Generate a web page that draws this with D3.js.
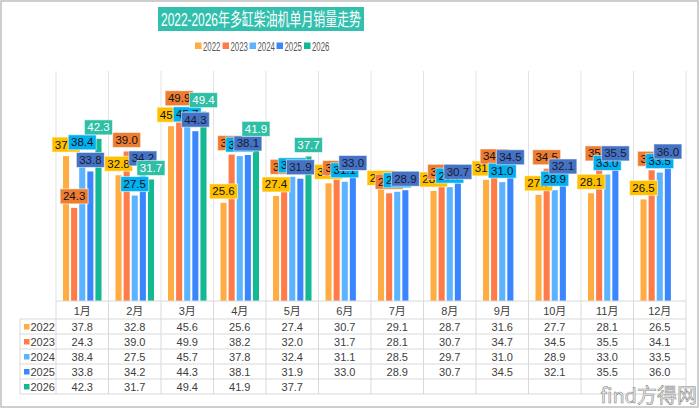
<!DOCTYPE html>
<html>
<head>
<meta charset="utf-8">
<script src="https://cdn.jsdelivr.net/npm/d3@7"></script>
<style>
  body { margin: 0; background: #fff; }
  svg { display: block; font-family: "Liberation Sans", Arial, sans-serif; }
</style>
</head>
<body>
<div id="chart"></div>
<script>
const months = ['1月','2月','3月','4月','5月','6月','7月','8月','9月','10月','11月','12月'];
const seriesNames = ['2022','2023','2024','2025','2026'];
const v2022 = [37.8, 32.8, 45.6, 25.6, 27.4, 30.7, 29.1, 28.7, 31.6, 27.7, 28.1, 26.5];
const v2023 = [24.3, 39.0, 49.9, 38.2, 32.0, 31.7, 28.1, 30.7, 34.7, 34.5, 35.5, 34.1];
const v2024 = [38.4, 27.5, 45.7, 37.8, 32.4, 31.1, 28.5, 29.7, 31.0, 28.9, 33.0, 33.5];
const v2025 = [33.8, 34.2, 44.3, 38.1, 31.9, 33.0, 28.9, 30.7, 34.5, 32.1, 35.5, 36.0];
const v2026 = [42.3, 31.7, 49.4, 41.9, 37.7];
const allValues = [v2022, v2023, v2024, v2025, v2026];

const barColors = ['#ffad42', '#ff7b47', '#5cb3ff', '#3a86ff', '#12b993'];
const labelFill = ['#ffc000', '#ed7d31', '#00b0f0', '#4472c4', '#2fbfa5'];
const labelText = ['#111', '#111', '#111', '#1a1a2e', '#fff'];

const W = 700, H = 409;
const plot = {left: 56, right: 686, top: 71, bottom: 301};

const svg = d3.select('#chart').append('svg')
    .attr('width', W).attr('height', H);

// outer frame
svg.append('rect')
    .attr('x', 1).attr('y', 1).attr('width', 697).attr('height', 406)
    .attr('fill', '#fff').attr('stroke', '#bfbfbf').attr('stroke-width', 1.5);

// title
svg.append('rect')
    .attr('x', 158).attr('y', 7).attr('width', 206).attr('height', 24)
    .attr('fill', '#33bfae');
svg.append('text')
    .attr('x', 161).attr('y', 25.5)
    .attr('fill', '#fff')
    .attr('textLength', 200).attr('lengthAdjust', 'spacingAndGlyphs')
    .style('font-family', '"Liberation Sans", "Noto Sans CJK SC", sans-serif')
    .style('font-size', '18px')
    .text('2022-2026年多缸柴油机单月销量走势');

// legend
const legendX = [195, 222.5, 249.5, 276.5, 304];
seriesNames.forEach((s, i) => {
    const g = svg.append('g').attr('transform', `translate(${legendX[i]},46)`);
    g.append('rect').attr('x', 0).attr('y', -3.5).attr('width', 6.5).attr('height', 6.5)
        .attr('fill', barColors[i]);
    g.append('text').attr('x', 8).attr('y', 4.5)
        .attr('fill', '#595959')
        .attr('textLength', 17.5).attr('lengthAdjust', 'spacingAndGlyphs')
        .style('font-size', '12px').text(s);
});

// scales
const x = d3.scaleBand().domain(months).range([plot.left, plot.right]);
const x1 = d3.scaleBand().domain(seriesNames).range([7, 45.5]).paddingInner(0.25);
const y = d3.scaleLinear().domain([0, 60]).range([plot.bottom, plot.top]);

// vertical gridlines
const bounds = months.map(m => x(m)).concat([plot.right]);
svg.append('g').selectAll('line').data(bounds).join('line')
    .attr('x1', d => d).attr('x2', d => d)
    .attr('y1', plot.top).attr('y2', plot.bottom)
    .attr('stroke', '#e3e3e3').attr('stroke-width', 1);

// bars
seriesNames.forEach((s, si) => {
    svg.append('g').selectAll('rect')
        .data(allValues[si])
        .join('rect')
        .attr('x', (d, i) => x(months[i]) + x1(s))
        .attr('width', x1.bandwidth())
        .attr('y', d => y(d))
        .attr('height', d => y(0) - y(d))
        .attr('fill', barColors[si]);
});

// data labels, drawn series by series so later ones sit on top
const lw = 28, lh = 15;
seriesNames.forEach((s, si) => {
    const g = svg.append('g');
    allValues[si].forEach((v, i) => {
        const cx = x(months[i]) + x1(s) + x1.bandwidth() / 2;
        const by = y(v) - 4;
        g.append('rect')
            .attr('x', cx - lw / 2).attr('y', by - lh)
            .attr('width', lw).attr('height', lh)
            .attr('fill', labelFill[si])
            .attr('stroke', 'rgba(255,255,255,0.55)').attr('stroke-width', 1);
        g.append('text')
            .attr('x', cx).attr('y', by - 3.5)
            .attr('text-anchor', 'middle')
            .attr('fill', labelText[si])
            .style('font-size', '11.5px')
            .text(v.toFixed(1));
    });
});

// data table
const tableTop = plot.bottom, headH = 18, rowH = 15;
const tableLeft = 20;
const rowsBottom = tableTop + headH + rowH * seriesNames.length;
const grid = '#d9d9d9';
const tg = svg.append('g');

// horizontal lines
tg.append('line').attr('x1', plot.left).attr('x2', plot.right)
    .attr('y1', tableTop).attr('y2', tableTop).attr('stroke', grid);
d3.range(seriesNames.length + 1).forEach(r => {
    const yy = tableTop + headH + r * rowH;
    tg.append('line').attr('x1', tableLeft).attr('x2', plot.right)
        .attr('y1', yy).attr('y2', yy).attr('stroke', grid);
});
// vertical lines
bounds.forEach(b => {
    tg.append('line').attr('x1', b).attr('x2', b)
        .attr('y1', tableTop).attr('y2', rowsBottom).attr('stroke', grid);
});
tg.append('line').attr('x1', tableLeft).attr('x2', tableLeft)
    .attr('y1', tableTop + headH).attr('y2', rowsBottom).attr('stroke', grid);

// header
months.forEach(m => {
    tg.append('text')
        .attr('x', x(m) + x.bandwidth() / 2).attr('y', tableTop + 13.5)
        .attr('text-anchor', 'middle').attr('fill', '#404040')
        .style('font-family', '"Liberation Sans", "Noto Sans CJK SC", sans-serif')
        .style('font-size', '11px').text(m);
});

// rows
seriesNames.forEach((s, si) => {
    const cy = tableTop + headH + si * rowH + rowH / 2;
    tg.append('rect').attr('x', 24).attr('y', cy - 2.5).attr('width', 5.5).attr('height', 5.5)
        .attr('fill', barColors[si]);
    tg.append('text').attr('x', 30.5).attr('y', cy + 4)
        .attr('fill', '#404040').style('font-size', '11px').text(s);
    allValues[si].forEach((v, i) => {
        tg.append('text')
            .attr('x', x(months[i]) + x.bandwidth() / 2).attr('y', cy + 4)
            .attr('text-anchor', 'middle').attr('fill', '#404040')
            .style('font-size', '11px').text(v.toFixed(1));
    });
});

// watermark
svg.append('text')
    .attr('x', 697).attr('y', 403).attr('text-anchor', 'end')
    .attr('fill', '#efefef').attr('stroke', '#8a8a8a').attr('stroke-width', 0.6)
    .style('font-family', '"Noto Sans CJK SC", sans-serif')
    .style('font-size', '20px')
    .text('find方得网');
</script>
</body>
</html>
